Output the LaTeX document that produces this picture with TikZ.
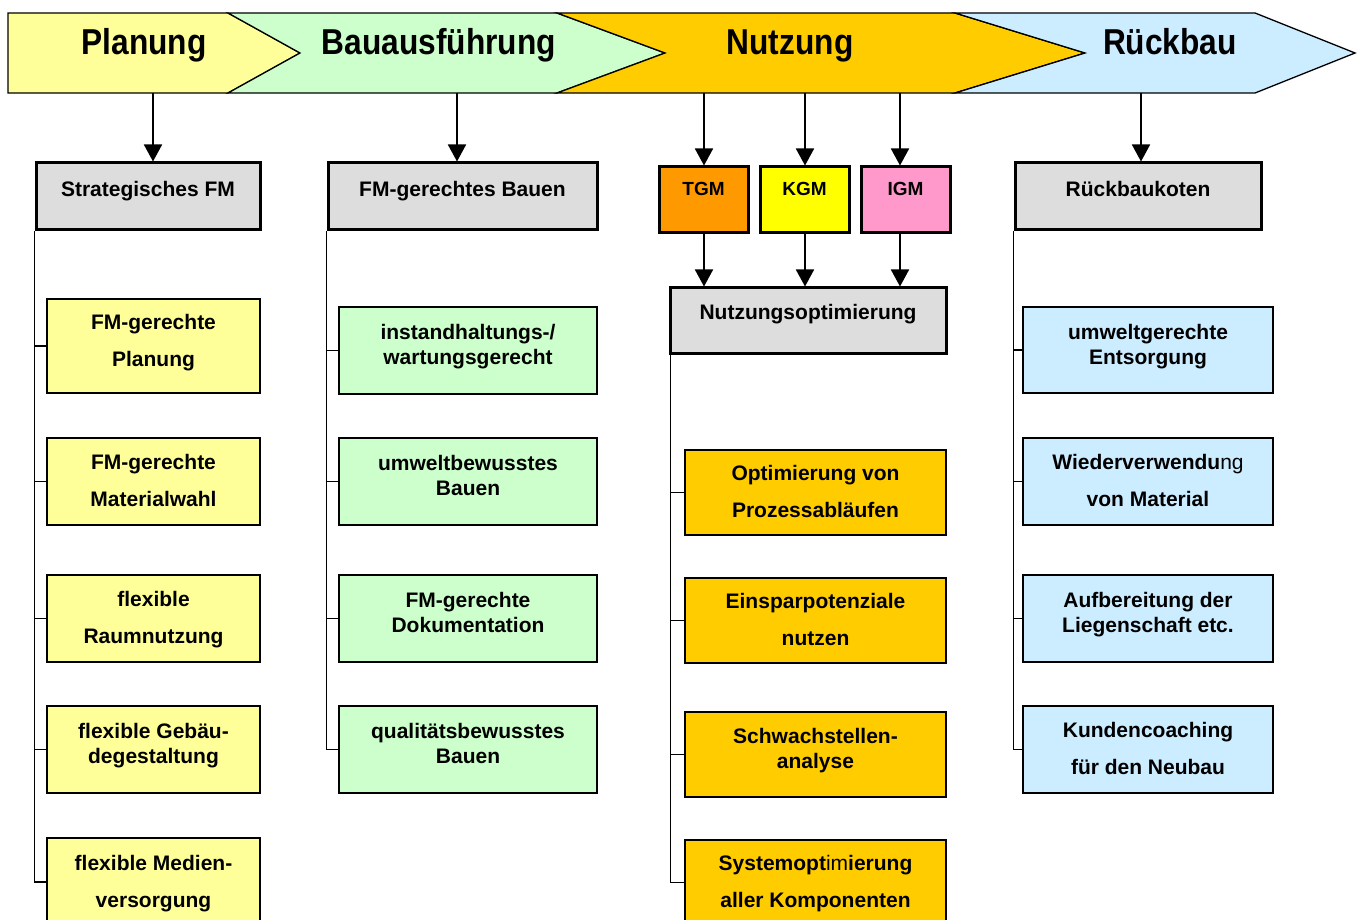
\documentclass[tikz,border=0pt]{standalone}
\usepackage{fontspec}
\setmainfont{Liberation Sans}
\newfontfamily\phasefont[FakeStretch=0.88]{Liberation Sans}
\usetikzlibrary{arrows.meta, positioning}

\definecolor{planfill}{HTML}{FFFF99}
\definecolor{baufill}{HTML}{CCFFCC}
\definecolor{nutzfill}{HTML}{FFCC00}
\definecolor{rueckfill}{HTML}{CCECFF}
\definecolor{tgmfill}{HTML}{FF9900}
\definecolor{kgmfill}{HTML}{FFFF00}
\definecolor{igmfill}{HTML}{FF99CC}
\definecolor{headfill}{HTML}{DDDDDD}

\tikzset{
  phase/.style = {draw=black, line width=1.3pt},
  phaselabel/.style = {anchor=base, font=\phasefont\bfseries\fontsize{36}{42}\selectfont},
  head/.style = {draw=black, line width=3pt, fill=headfill, minimum height=67pt,
                 text depth=16pt, font=\bfseries\fontsize{21}{25}\selectfont},
  gm/.style = {head, minimum width=89pt, minimum height=66pt, text depth=22pt,
               font=\bfseries\fontsize{19}{25}\selectfont},
  item/.style = {draw=black, line width=1.6pt, minimum height=87pt, align=center,
                 text depth=12pt, font=\bfseries\fontsize{21}{25}\selectfont},
  wide/.style = {text depth=2pt},
  arr/.style = {-{Triangle[width=18pt,length=17pt]}, line width=1.8pt},
  tree/.style = {line width=1.5pt}
}

\begin{document}
\begin{tikzpicture}[x=1pt, y=-1pt]
\clip (0,0) rectangle (1361,920);
\fill[white] (0,0) rectangle (1361,920);

% phases
\draw[phase, fill=planfill] (8,13) -- (228,13) -- (300,53) -- (228,93) -- (8,93) -- cycle;
\draw[phase, fill=baufill] (228,13) -- (557,13) -- (665,53) -- (557,93) -- (228,93) -- (300,53) -- cycle;
\draw[phase, fill=nutzfill] (557,13) -- (955,13) -- (1085,53) -- (955,93) -- (557,93) -- (665,53) -- cycle;
\draw[phase, fill=rueckfill] (955,13) -- (1255,13) -- (1355,53) -- (1255,93) -- (955,93) -- (1085,53) -- cycle;

\node[phaselabel] (planung) at (144,55) {Planung};
\node[phaselabel] (bau) at (439,55) {Bauausführung};
\node[phaselabel] (nutzung) at (790,55) {Nutzung};
\node[phaselabel] (rueckbau) at (1170,55) {Rückbau};

\coordinate (pl-out) at (153,93);
\coordinate (bau-out) at (457,93);
\coordinate (tgm-out) at (704,93);
\coordinate (kgm-out) at (805,93);
\coordinate (igm-out) at (900,93);
\coordinate (rb-out) at (1141,93);

% heads
\node[head, minimum width=224pt] (sfm) at (148,196.5) {Strategisches FM};
\node[head, minimum width=269pt] (fmbau) at (462.5,196.5) {FM-gerechtes Bauen};
\node[head, minimum width=246pt] (rbk) at (1138,196.5) {Rückbaukoten};
\node[gm, fill=tgmfill] (tgm) at (703.5,200) {TGM\hspace{6pt}};
\node[gm, fill=kgmfill] (kgm) at (804.5,200) {KGM\hspace{4pt}};
\node[gm, fill=igmfill] (igm) at (905.5,200) {IGM\hspace{10pt}};
\node[head, minimum width=276pt, minimum height=65pt, text depth=17pt] (nopt) at (808,320.5) {Nutzungsoptimierung};

\draw[arr] (pl-out) -- (pl-out |- sfm.north);
\draw[arr] (bau-out) -- (bau-out |- fmbau.north);
\draw[arr] (tgm-out) -- (tgm-out |- tgm.north);
\draw[arr] (kgm-out) -- (kgm-out |- kgm.north);
\draw[arr] (igm-out) -- (igm-out |- igm.north);
\draw[arr] (rb-out) -- (rb-out |- rbk.north);
\draw[arr] (tgm-out |- tgm.south) -- (tgm-out |- nopt.north);
\draw[arr] (kgm-out |- kgm.south) -- (kgm-out |- nopt.north);
\draw[arr] (igm-out |- igm.south) -- (igm-out |- nopt.north);

% Planung
\begin{scope}[every node/.style={item, fill=planfill, minimum width=213pt}]
\node[minimum height=94pt] (p1) at (153.5,346) {FM-gerechte\\[12pt]Planung};
\node[wide] (p2) at (153.5,481.5) {FM-gerechte\\[12pt]Materialwahl};
\node[wide] (p3) at (153.5,618.5) {flexible\\[12pt]Raumnutzung};
\node (p4) at (153.5,749.5) {flexible Gebäu-\\degestaltung};
\node[wide, minimum height=88pt] (p5) at (153.5,882) {flexible Medien-\\[12pt]versorgung};
\end{scope}

% Bauausfuehrung
\begin{scope}[every node/.style={item, fill=baufill, minimum width=258pt}]
\node (b1) at (468,350.5) {instandhaltungs-/\\wartungsgerecht};
\node (b2) at (468,481.5) {umweltbewusstes\\Bauen};
\node (b3) at (468,618.5) {FM-gerechte\\Dokumentation};
\node (b4) at (468,749.5) {qualitätsbewusstes\\Bauen};
\end{scope}

% Nutzung
\begin{scope}[every node/.style={item, fill=nutzfill, minimum width=261pt, minimum height=85pt}]
\node[wide] (n1) at (815.5,492.5) {Optimierung von\\[12pt]Prozessabläufen};
\node[wide] (n2) at (815.5,620.5) {Einsparpotenziale\\[12pt]nutzen};
\node (n3) at (815.5,754.5) {Schwachstellen-\\analyse};
\node[wide] (n4) at (815.5,882.5) {Systemopt{\mdseries im}ierung\\[12pt]aller Komponenten};
\end{scope}

% Rueckbau
\begin{scope}[every node/.style={item, fill=rueckfill, minimum width=250pt}]
\node[minimum height=86pt] (r1) at (1148,350) {umweltgerechte\\Entsorgung};
\node[wide] (r2) at (1148,481.5) {Wiederverwendu{\mdseries ng}\\[12pt]von Material};
\node (r3) at (1148,618.5) {Aufbereitung der\\Liegenschaft etc.};
\node[wide] (r4) at (1148,749.5) {Kundencoaching\\[12pt]für den Neubau};
\end{scope}

% trees
\draw[tree] (sfm.south west) |- (p5.west);
\foreach \n in {p1,p2,p3,p4}
  \draw[tree] (sfm.south west |- \n.west) -- (\n.west);
\draw[tree] (fmbau.south west) |- (b4.west);
\foreach \n in {b1,b2,b3}
  \draw[tree] (fmbau.south west |- \n.west) -- (\n.west);
\draw[tree] ([xshift=2pt]nopt.south west) |- (n4.west);
\foreach \n in {n1,n2,n3}
  \draw[tree] ([xshift=2pt]nopt.south west |- \n.west) -- (\n.west);
\draw[tree] (rbk.south west) |- (r4.west);
\foreach \n in {r1,r2,r3}
  \draw[tree] (rbk.south west |- \n.west) -- (\n.west);
\end{tikzpicture}
\end{document}
